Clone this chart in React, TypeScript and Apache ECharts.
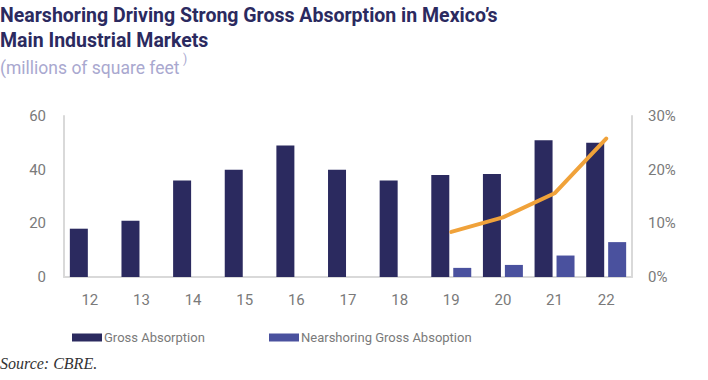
import React, { useEffect, useRef } from "react";
import * as echarts from "echarts";

const categories = ["12", "13", "14", "15", "16", "17", "18", "19", "20", "21", "22"];
const grossAbsorption = [18, 21, 36, 40, 49, 40, 36, 38, 38.4, 51, 50];
const nearshoringAbsorption = [null, null, null, null, null, null, null, 3.4, 4.5, 8, 13];
const nearshoringShare = [null, null, null, null, null, null, null, 8.4, 11.1, 15.6, 25.8];
const leftTicks = { min: 0, max: 60, interval: 20 };
const rightTicks = { min: 0, max: 30, interval: 10 };

const FONT = "Roboto";
const NAVY = "#2b2a5f";
const BLUE = "#4a519e";
const ORANGE = "#f0a23a";
const GRAY = "#7a7a7a";
const AXIS = "#d9d9d9";

export default function App() {
  const ref = useRef<HTMLDivElement>(null);
  useEffect(() => {
    if (!ref.current) return;
    const chart = echarts.init(ref.current, null, { renderer: "svg" });
    chart.setOption({
      animation: false,
      backgroundColor: "#ffffff",
      textStyle: { fontFamily: FONT },
      grid: { left: 64, right: 76, top: 116, bottom: 103, containLabel: false },
      graphic: [
        {
          type: "text",
          left: 0,
          top: 5,
          style: {
            text: "Nearshoring Driving Strong Gross Absorption in Mexico’s",
            fontFamily: FONT,
            fontWeight: "bold",
            fontSize: 19.5,
            fill: NAVY,
          },
        },
        {
          type: "text",
          left: 0,
          top: 30,
          style: {
            text: "Main Industrial Markets",
            fontFamily: FONT,
            fontWeight: "bold",
            fontSize: 19.5,
            fill: NAVY,
          },
        },
        {
          type: "text",
          left: 0,
          top: 59,
          style: {
            text: "(millions of square feet",
            fontFamily: FONT,
            fontSize: 17.5,
            fill: "#a9a8cf",
          },
        },
        {
          type: "text",
          left: 183,
          top: 53,
          style: {
            text: ")",
            fontFamily: FONT,
            fontSize: 12,
            fill: "#a9a8cf",
          },
        },
        {
          type: "text",
          left: 0,
          top: 355,
          style: {
            text: "Source: CBRE.",
            fontFamily: "Liberation Serif",
            fontStyle: "italic",
            fontSize: 16,
            fill: "#333333",
          },
        },
      ],
      legend: [
        {
          left: 67,
          top: 326,
          itemWidth: 30,
          itemHeight: 8,
          itemGap: 4,
          icon: "rect",
          data: ["Gross Absorption"],
          textStyle: { color: GRAY, fontSize: 13, fontFamily: FONT, padding: [0, 0, 0, -3] },
        },
        {
          left: 264,
          top: 326,
          itemWidth: 30,
          itemHeight: 8,
          icon: "rect",
          data: ["Nearshoring Gross Absoption"],
          textStyle: { color: GRAY, fontSize: 13, fontFamily: FONT, padding: [0, 0, 0, -3] },
        },
      ],
      xAxis: {
        type: "category",
        data: categories,
        axisLine: { show: true, lineStyle: { color: AXIS, width: 2 } },
        axisTick: { show: false },
        axisLabel: { color: GRAY, fontSize: 15, margin: 15, fontFamily: FONT },
      },
      yAxis: [
        {
          type: "value",
          min: leftTicks.min,
          max: leftTicks.max,
          interval: leftTicks.interval,
          axisLine: { show: true, lineStyle: { color: AXIS, width: 2 } },
          axisTick: { show: false },
          splitLine: { show: false },
          axisLabel: { color: GRAY, fontSize: 15, margin: 18, fontFamily: FONT },
        },
        {
          type: "value",
          position: "right",
          min: rightTicks.min,
          max: rightTicks.max,
          interval: rightTicks.interval,
          axisLine: { show: true, lineStyle: { color: AXIS, width: 2 } },
          axisTick: { show: false },
          splitLine: { show: false },
          axisLabel: { color: GRAY, fontSize: 15, margin: 16, fontFamily: FONT, formatter: "{value}%" },
        },
      ],
      series: [
        {
          name: "Gross Absorption",
          type: "bar",
          data: grossAbsorption,
          barWidth: 18,
          barGap: "22%",
          itemStyle: { color: NAVY },
        },
        {
          name: "Nearshoring Gross Absoption",
          type: "bar",
          data: nearshoringAbsorption,
          barWidth: 18,
          itemStyle: { color: BLUE },
        },
        {
          name: "Nearshoring share",
          type: "line",
          yAxisIndex: 1,
          data: nearshoringShare,
          symbol: "none",
          lineStyle: { color: ORANGE, width: 4, cap: "round" },
          itemStyle: { color: ORANGE },
        },
      ],
    });
    return () => chart.dispose();
  }, []);
  return (
    <div
      ref={ref}
      style={{ position: "fixed", left: 0, top: 0, width: 708, height: 380 }}
    />
  );
}
